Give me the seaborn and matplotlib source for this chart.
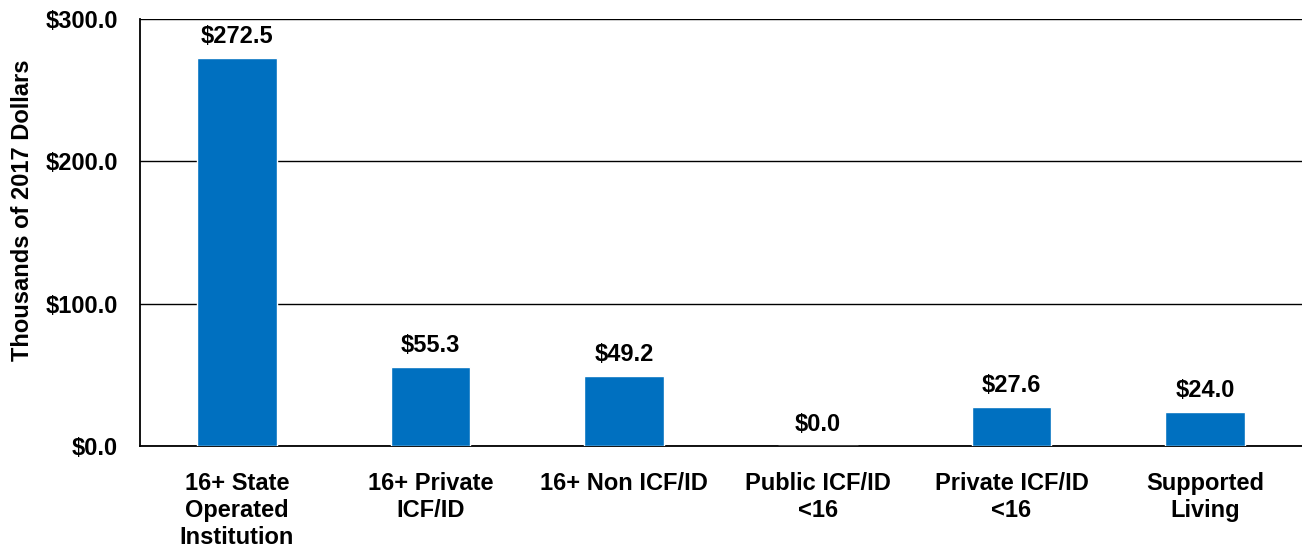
import matplotlib
matplotlib.use("Agg")
import matplotlib.pyplot as plt
import seaborn as sns
import pandas as pd

categories = ["16+ State\nOperated\nInstitution", "16+ Private\nICF/ID", "16+ Non ICF/ID",
              "Public ICF/ID\n<16", "Private ICF/ID\n<16", "Supported\nLiving"]
values = [272.5, 55.3, 49.2, 0.0, 27.6, 24.0]
yticks = [0, 100, 200, 300]

sns.set_theme(style="white")
plt.rcParams['font.family'] = ['Liberation Sans', 'DejaVu Sans']
plt.rcParams['font.weight'] = 'bold'
plt.rcParams['text.color'] = 'black'
plt.rcParams['xtick.color'] = 'black'
plt.rcParams['ytick.color'] = 'black'
plt.rcParams['axes.labelcolor'] = 'black'

df = pd.DataFrame({"cat": categories, "val": values})
fig = plt.figure(figsize=(13.02, 5.48), dpi=100)
ax = fig.add_axes([140/1302, 1 - 446/548, 1162/1302, 427/548])
sns.barplot(data=df, x="cat", y="val", color="#0070C0", saturation=1, width=0.41, ax=ax, zorder=3)
ax.set_ylim(0, 300)
ax.set_yticks(yticks)
ax.set_yticklabels([f"${v:.1f}" for v in yticks], fontsize=17, fontweight='bold')
ax.yaxis.grid(True, color='black', linewidth=1)
ax.set_axisbelow(True)
ax.set_xlabel("")
ax.set_ylabel("Thousands of 2017 Dollars", fontsize=17, fontweight='bold')
ax.yaxis.set_label_coords(-0.0915, 0.553)
ax.tick_params(axis='x', labelsize=17, length=0, pad=19)
ax.tick_params(axis='y', length=0, pad=16)
for lbl in ax.get_xticklabels():
    lbl.set_fontweight('bold')
for s in ['top', 'right']:
    ax.spines[s].set_visible(False)
for s in ['left', 'bottom']:
    ax.spines[s].set_color('black')
    ax.spines[s].set_linewidth(1.3)
for i, v in enumerate(values):
    ax.text(i, v + 7, f"${v:.1f}", ha='center', va='bottom', fontsize=17, fontweight='bold')
fig.savefig("out.png", dpi=100)
